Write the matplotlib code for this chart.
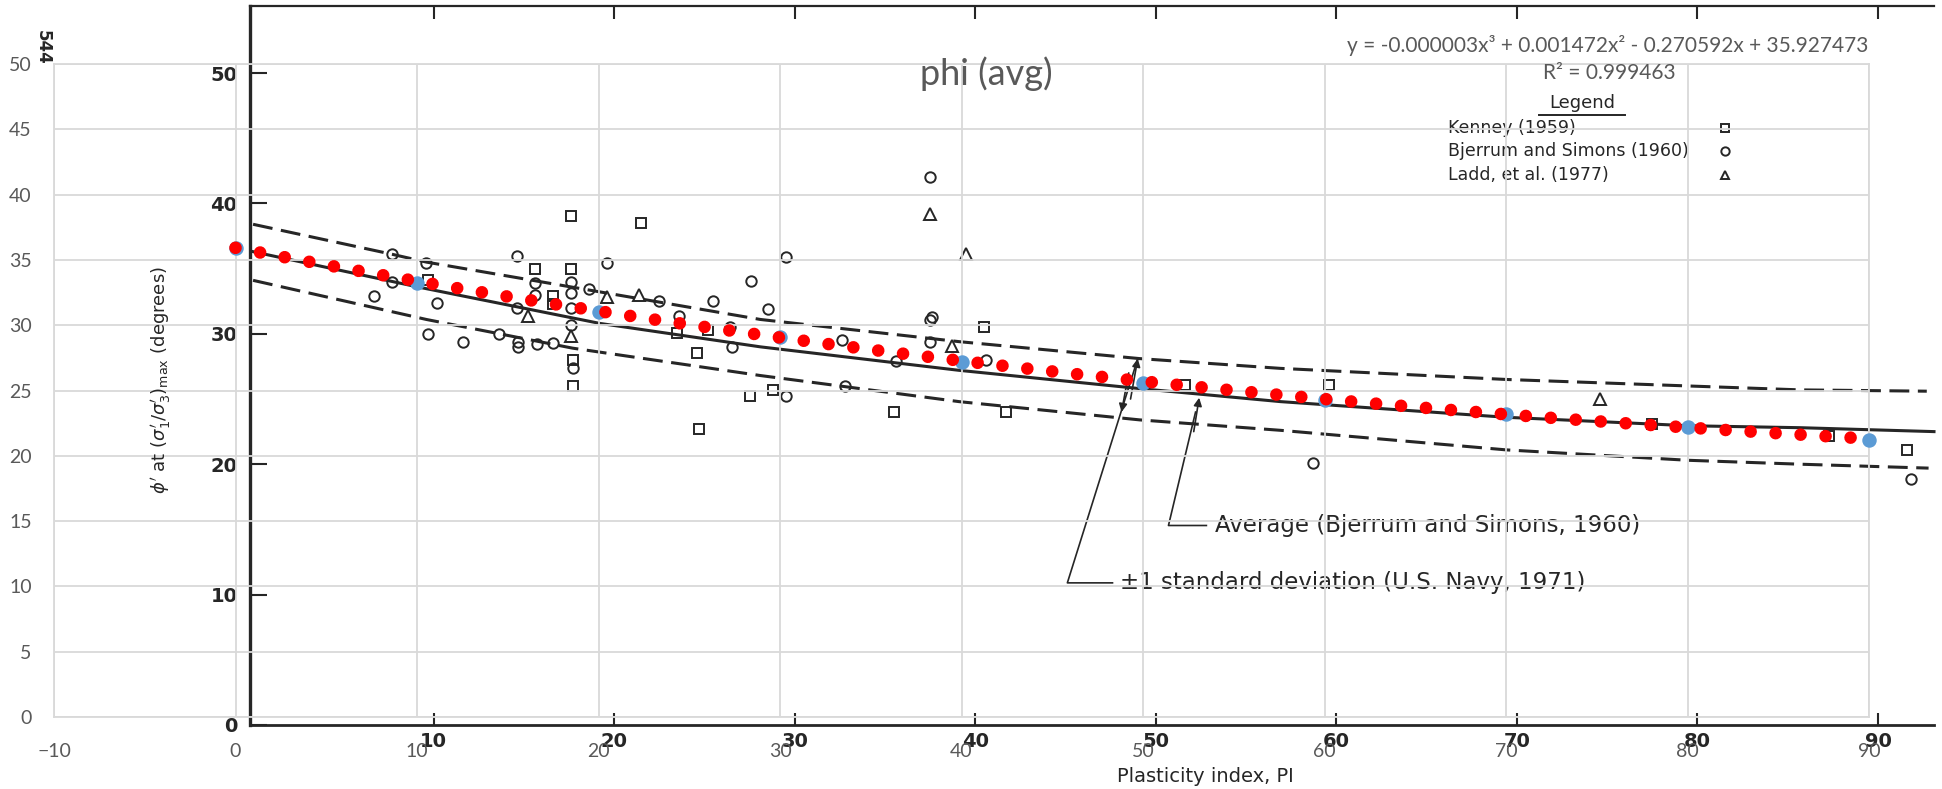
import numpy as np
import matplotlib

matplotlib.use("Agg")
import matplotlib.pyplot as plt

W, H = 1942, 789

# Excel series (phi average vs plasticity index)
pi_points = [0, 10, 20, 30, 40, 50, 60, 70, 80, 90]
phi_avg = [35.9, 33.2, 31.0, 29.1, 27.2, 25.6, 24.3, 23.2, 22.2, 21.2]
trend_coef = [-0.000003, 0.001472, -0.270592, 35.927473]  # from the trendline label
r_squared = 0.999463
x_ticks = list(range(-10, 91, 10))
y_ticks = list(range(0, 51, 5))

# scanned background figure, digitised in its own PI / phi scale
upper_pi = [0, 7.7, 9.6, 28.1, 39.1, 49.1, 56.9, 69.4, 79.5, 85.7, 92.7]
upper_phi = [38.4, 36.1, 35.5, 31.1, 29.4, 28.1, 27.35, 26.5, 26.0, 25.7, 25.6]
mid_pi = [0, 9.1, 19.2, 28.1, 39.1, 49.1, 56.9, 69.4, 79.5, 85.7, 93.1]
mid_phi = [36.3, 33.6, 30.8, 29.0, 27.2, 25.8, 24.8, 23.6, 22.95, 22.8, 22.5]
lower_pi = [0, 9.6, 17.7, 28.1, 39.1, 49.1, 56.9, 69.4, 79.5, 85.7, 92.8]
lower_phi = [34.1, 31.1, 28.9, 26.8, 24.8, 23.4, 22.6, 21.1, 20.3, 20.0, 19.7]

kenney_pi = [17.6, 21.5, 15.6, 17.6, 16.6, 16.6, 9.7, 23.5, 25.2, 24.6, 17.7, 17.7,
             24.7, 27.5, 28.8, 40.5, 35.5, 41.7, 51.6, 59.6, 77.5, 87.3, 91.6]
kenney_phi = [39.0, 38.5, 35.0, 35.0, 32.9, 32.3, 34.1, 30.1, 30.3, 28.5, 28.0, 26.0,
              22.7, 25.2, 25.7, 30.5, 24.0, 24.0, 26.1, 26.1, 23.1, 22.2, 21.1]
bjerrum_pi = [7.7, 9.6, 7.7, 6.7, 10.2, 9.7, 11.6, 14.6, 15.6, 15.6, 14.6, 13.6, 14.7,
              14.7, 15.7, 16.6, 17.6, 17.6, 17.6, 17.6, 18.6, 19.6, 22.5, 23.6, 25.5,
              26.4, 26.5, 27.6, 17.7, 37.5, 29.5, 28.5, 37.5, 37.6, 32.6, 37.5, 40.6,
              35.6, 32.8, 29.5, 58.7, 91.8]
bjerrum_phi = [36.1, 35.45, 34.0, 32.9, 32.4, 30.0, 29.4, 35.97, 33.9, 33.0, 31.95, 30.0,
               29.4, 29.0, 29.2, 29.3, 34.0, 33.1, 32.0, 30.7, 33.4, 35.4, 32.5, 31.4,
               32.5, 30.5, 29.0, 34.05, 27.4, 42.05, 35.9, 31.9, 31.06, 31.3, 29.5, 29.4,
               28.0, 27.9, 26.0, 25.2, 20.1, 18.9]
ladd_pi = [15.2, 17.6, 19.6, 21.4, 37.5, 39.5, 38.7, 74.6]
ladd_phi = [31.4, 29.8, 32.8, 33.0, 39.2, 36.1, 29.1, 25.0]

scan_x_ticks = list(range(10, 91, 10))
scan_y_ticks = list(range(0, 51, 10))

INK = "#262626"
SCAN_FONT = "DejaVu Sans"
XL_FONT = "Lato"
XL_TEXT = "#595959"


def fx(px):
    return px / W


def fy(py):
    return 1 - py / H


fig = plt.figure(figsize=(W / 100, H / 100), dpi=100)

# ---- scanned chart (background) ----
scan = fig.add_axes([fx(250), fy(725), fx(1934) - fx(250), fy(6) - fy(725)])
scan.set_zorder(0)
scan.set_xlim(-0.17, 93.1)
scan.set_ylim(0, 55.14)
scan.spines["right"].set_visible(False)
for side, lw in (("left", 2.4), ("top", 1.6), ("bottom", 2.0)):
    scan.spines[side].set_color(INK)
    scan.spines[side].set_linewidth(lw)
scan.set_xticks(scan_x_ticks)
scan.set_yticks(scan_y_ticks)
scan.tick_params(axis="x", direction="in", length=9, width=1.5, color=INK, top=True,
                 pad=5, labelsize=14, labelcolor=INK)
scan.tick_params(axis="y", direction="in", length=12, width=1.5, color=INK,
                 pad=9, labelsize=14, labelcolor=INK)
for lab in scan.get_xticklabels() + scan.get_yticklabels():
    lab.set_fontfamily(SCAN_FONT)
    lab.set_fontweight("bold")

dash = (0, (6.5, 2.8))
scan.plot(upper_pi, upper_phi, color=INK, lw=2.2, ls=dash, clip_on=False)
scan.plot(lower_pi, lower_phi, color=INK, lw=2.2, ls=dash, clip_on=False)
scan.plot(mid_pi, mid_phi, color=INK, lw=2.2, clip_on=False)

mk = dict(ls="none", mfc="none", mec=INK, mew=1.4, clip_on=False)
scan.plot(kenney_pi, kenney_phi, marker="s", ms=7.5, **mk)
scan.plot(bjerrum_pi, bjerrum_phi, marker="o", ms=7.5, **mk)
scan.plot(ladd_pi, ladd_phi, marker="^", ms=8.5, **mk)

# annotation arrows of the scan
arrow = dict(arrowstyle="-|>", color=INK, lw=1.2, mutation_scale=12, shrinkA=0, shrinkB=0)
scan.plot([47.6, 45.1, 49.0], [10.9, 10.9, 28.1], color=INK, lw=1.2)
scan.annotate("", xy=(49.0, 28.1), xytext=(48.6, 25.0), arrowprops=arrow)
scan.annotate("", xy=(48.1, 24.0), xytext=(48.5, 27.0), arrowprops=arrow)
scan.plot([52.8, 50.7, 52.2], [15.3, 15.3, 24.0], color=INK, lw=1.2)
scan.annotate("", xy=(52.4, 25.1), xytext=(52.1, 22.5), arrowprops=arrow)
scan.text(53.3, 15.3, "Average (Bjerrum and Simons, 1960)", fontsize=16.5,
          family=SCAN_FONT, color=INK, va="center")
scan.text(48.0, 10.9, "\u00b11 standard deviation (U.S. Navy, 1971)", fontsize=16.5,
          family=SCAN_FONT, color=INK, va="center")

# legend of the scan
scan.text(73.6, 47.7, "Legend", fontsize=13, family=SCAN_FONT, color=INK,
          ha="center", va="center")
scan.plot([71.2, 76.0], [46.75, 46.75], color=INK, lw=1.4)
legend_rows = [("Kenney (1959)", "s"), ("Bjerrum and Simons (1960)", "o"),
               ("Ladd, et al. (1977)", "^")]
for i, (name, m) in enumerate(legend_rows):
    yy = 45.8 - i * 1.8
    scan.text(66.2, yy, name, fontsize=12.5, family=SCAN_FONT, color=INK, va="center")
    scan.plot([81.5], [yy], marker=m, ms=6, **mk)

fig.text(fx(1205), fy(776), "Plasticity index, PI", fontsize=14, family=SCAN_FONT,
         color=INK, ha="center", va="center")
fig.text(fx(161), fy(380), r"$\phi'$ at $(\sigma_1'/\sigma_3')_{\max}$ (degrees)",
         fontsize=13, family=SCAN_FONT, color=INK, rotation=90, ha="center", va="center")
fig.text(fx(43), fy(47), "544", fontsize=12, family=SCAN_FONT, fontweight="bold",
         color=INK, rotation=-90, ha="center", va="center")

# ---- Excel chart (overlay) ----
ax = fig.add_axes([fx(54), fy(717), fx(1869) - fx(54), fy(64) - fy(717)])
ax.set_zorder(1)
ax.patch.set_alpha(0)
ax.set_xlim(-10, 90)
ax.set_ylim(0, 50)
ax.set_xticks(x_ticks)
ax.set_yticks(y_ticks)
ax.grid(True, color="#d9d9d9", lw=1.3)
ax.set_axisbelow(True)
for s in ax.spines.values():
    s.set_color("#d9d9d9")
    s.set_linewidth(1.3)
ax.tick_params(axis="x", length=0, pad=19, labelsize=14, labelcolor=XL_TEXT)
ax.tick_params(axis="y", length=0, pad=16, labelsize=14, labelcolor=XL_TEXT)
for lab in ax.get_xticklabels() + ax.get_yticklabels():
    lab.set_fontfamily(XL_FONT)

ax.plot(pi_points, phi_avg, "o", ms=9.4, color="#5b9bd5", zorder=3, clip_on=False)
xt = np.linspace(pi_points[0], pi_points[-1], 400)
ax.plot(xt, np.polyval(trend_coef, xt), color="#ff0000", lw=9.1,
        ls=(0, (0.001, 1.98)), dash_capstyle="round", zorder=4, clip_on=False)

fig.text(fx(986), fy(74), "phi (avg)", fontsize=26, family=XL_FONT, color=XL_TEXT,
         ha="center", va="center")
c3, c2, c1, c0 = trend_coef
eq = f"y = {c3:.6f}x\u00b3 + {c2:.6f}x\u00b2 - {abs(c1):.6f}x + {c0:.6f}"
fig.text(fx(1608), fy(45), eq, fontsize=15, family=XL_FONT, color=XL_TEXT,
         ha="center", va="center")
fig.text(fx(1609), fy(73), f"R\u00b2 = {r_squared:.6f}", fontsize=15, family=XL_FONT,
         color=XL_TEXT, ha="center", va="center")

fig.savefig("out.png", dpi=100)
